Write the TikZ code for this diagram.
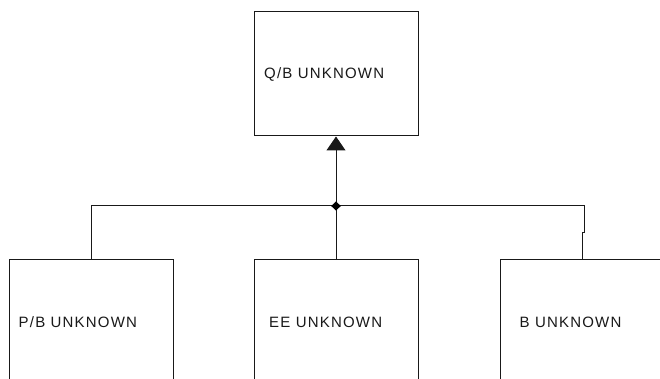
\documentclass[tikz,border=0pt]{standalone}
\usepackage{fontspec}
\setmainfont{Liberation Sans}[LetterSpace=8]
\usetikzlibrary{arrows.meta}
\begin{document}
\begin{tikzpicture}[x=1pt,y=-1pt,
  unitbox/.style={draw=black!90,line width=1pt,rectangle,minimum width=164pt,inner sep=0pt},
  boxlabel/.style={anchor=base west,inner sep=0pt,font=\fontsize{15}{18}\selectfont,text=black!90},
  wire/.style={draw=black!90,line width=1pt}]
\useasboundingbox (0,0) rectangle (660,379);
\clip (0,0) rectangle (660,379);
\fill[white] (0,0) rectangle (660,379);

% parent box
\node[unitbox,minimum height=124pt] (qb) at (336,74) {};
\node[boxlabel] (qbt) at (264,78.5) {Q/B UNKNOWN};

% child boxes (run past the lower edge)
\node[unitbox,minimum height=160pt] (pb) at (91,339) {};
\node[unitbox,minimum height=160pt] (ee) at (336,339) {};
\node[unitbox,minimum height=160pt] (bb) at (582,339) {};
\node[boxlabel] (pbt) at (18.5,327.5) {P/B UNKNOWN};
\node[boxlabel] (eet) at (269,327.5) {EE UNKNOWN};
\node[boxlabel] (bbt) at (519.5,327.5) {B UNKNOWN};

% bus and junction
\coordinate (jn) at (336,206);
\coordinate (bl) at (91,206);
\coordinate (br) at (584,206);
\coordinate (bk) at (584,232);
\draw[wire] (pb.north) -- (bl) -- (br) -- (bk) -- ++(-2,0) -- (bb.north);
\draw[wire] (ee.north) -- (jn);
\draw[wire,-{Triangle[width=19pt,length=14pt]}] (jn) -- (qb.south);
\fill[black] (jn) ++(-4.8,0) -- ++(4.8,-4.6) -- ++(4.8,4.6) -- ++(-4.8,4.6) -- cycle;
\end{tikzpicture}
\end{document}
